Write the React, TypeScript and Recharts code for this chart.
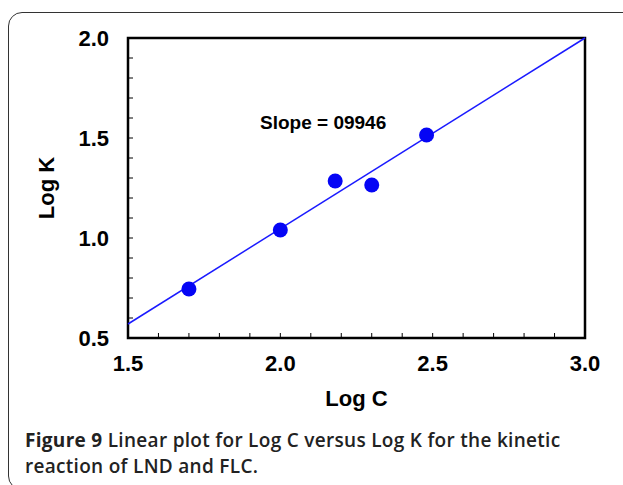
import { ScatterChart, Scatter, XAxis, YAxis, ReferenceArea, ReferenceLine } from 'recharts'

const logC = [1.7, 2.0, 2.18, 2.3, 2.48]
const logK = [0.745, 1.04, 1.285, 1.265, 1.515]

// fitted line at the frame edges
const fitX = [1.5, 3.0]
const fitY = [0.57, 2.0]

const xTicks = [1.5, 1.6, 1.7, 1.8, 1.9, 2.0, 2.1, 2.2, 2.3, 2.4, 2.5, 2.6, 2.7, 2.8, 2.9, 3.0]
const yTicks = [0.5, 0.6, 0.7, 0.8, 0.9, 1.0, 1.1, 1.2, 1.3, 1.4, 1.5, 1.6, 1.7, 1.8, 1.9, 2.0]

const points = logC.map((x, i) => ({ x, y: logK[i] }))

const FONT = '"Liberation Sans", Arial, sans-serif'
const isMajor = (v: number) => Math.abs(v * 2 - Math.round(v * 2)) < 1e-6

function XTick({ x, y, payload }: any) {
  const v = payload.value as number
  return (
    <g>
      <line x1={x} y1={y} x2={x} y2={y - 5} stroke="#000" strokeWidth={1} />
      {isMajor(v) && (
        <text x={x} y={y + 33} textAnchor="middle" fontFamily={FONT} fontWeight="bold" fontSize={22} fill="#000">
          {v.toFixed(1)}
        </text>
      )}
    </g>
  )
}

function YTick({ x, y, payload }: any) {
  const v = payload.value as number
  return (
    <g>
      <line x1={x} y1={y} x2={x + 5} y2={y} stroke="#000" strokeWidth={1} />
      {isMajor(v) && (
        <text x={x - 19} y={y + 8} textAnchor="end" fontFamily={FONT} fontWeight="bold" fontSize={22} fill="#000">
          {v.toFixed(1)}
        </text>
      )}
    </g>
  )
}

const Dot = ({ cx, cy }: any) => <circle cx={cx} cy={cy} r={7.5} fill="#0505f5" />

export default function App() {
  return (
    <div style={{ position: 'fixed', left: 0, top: 0, width: 623, height: 485, overflow: 'hidden', background: '#fff' }}>
      <div
        style={{
          position: 'absolute',
          left: 8,
          top: 12,
          width: 700,
          height: 476,
          border: '1.5px solid #333',
          borderRadius: 14,
        }}
      />
      <div style={{ position: 'absolute', left: 0, top: 0 }}>
        <ScatterChart width={623} height={420} margin={{ top: 38, right: 38, bottom: 2, left: 0 }}>
          <XAxis
            type="number"
            dataKey="x"
            domain={[1.5, 3.0]}
            ticks={xTicks}
            interval={0}
            tickSize={0}
            tickMargin={0}
            tickLine={false}
            axisLine={false}
            tick={XTick}
            height={80}
            label={{ value: 'Log C', position: 'insideBottom', offset: 12, fontFamily: FONT, fontWeight: 'bold', fontSize: 22, fill: '#000' }}
          />
          <YAxis
            type="number"
            dataKey="y"
            domain={[0.5, 2.0]}
            ticks={yTicks}
            interval={0}
            tickSize={0}
            tickMargin={0}
            tickLine={false}
            axisLine={false}
            tick={YTick}
            width={128}
            label={{ value: 'Log K', angle: -90, position: 'insideLeft', offset: 46, style: { textAnchor: 'middle' }, fontFamily: FONT, fontWeight: 'bold', fontSize: 22, fill: '#000' }}
          />
          <ReferenceArea x1={1.5} x2={3.0} y1={0.5} y2={2.0} fill="none" stroke="#000" strokeWidth={2.5} />
          <ReferenceLine
            segment={[
              { x: fitX[0], y: fitY[0] },
              { x: fitX[1], y: fitY[1] },
            ]}
            stroke="#1a1aff"
            strokeWidth={1.5}
          />
          <Scatter data={points} shape={Dot} isAnimationActive={false} />
        </ScatterChart>
      </div>
      <div
        style={{
          position: 'absolute',
          left: 260,
          top: 112,
          fontFamily: FONT,
          fontWeight: 'bold',
          fontSize: 19,
          color: '#000',
          whiteSpace: 'nowrap',
        }}
      >
        Slope = 09946
      </div>
      <div
        style={{
          position: 'absolute',
          left: 25,
          top: 427,
          fontFamily: '"Open Sans", "Noto Sans", sans-serif',
          fontSize: 19,
          fontWeight: 600,
          lineHeight: '26px',
          letterSpacing: 0.3,
          color: '#222',
          whiteSpace: 'nowrap',
        }}
      >
        <b style={{ fontWeight: 700 }}>Figure 9</b> Linear plot for Log C versus Log K for the kinetic
        <br />
        reaction of LND and FLC.
      </div>
    </div>
  )
}
